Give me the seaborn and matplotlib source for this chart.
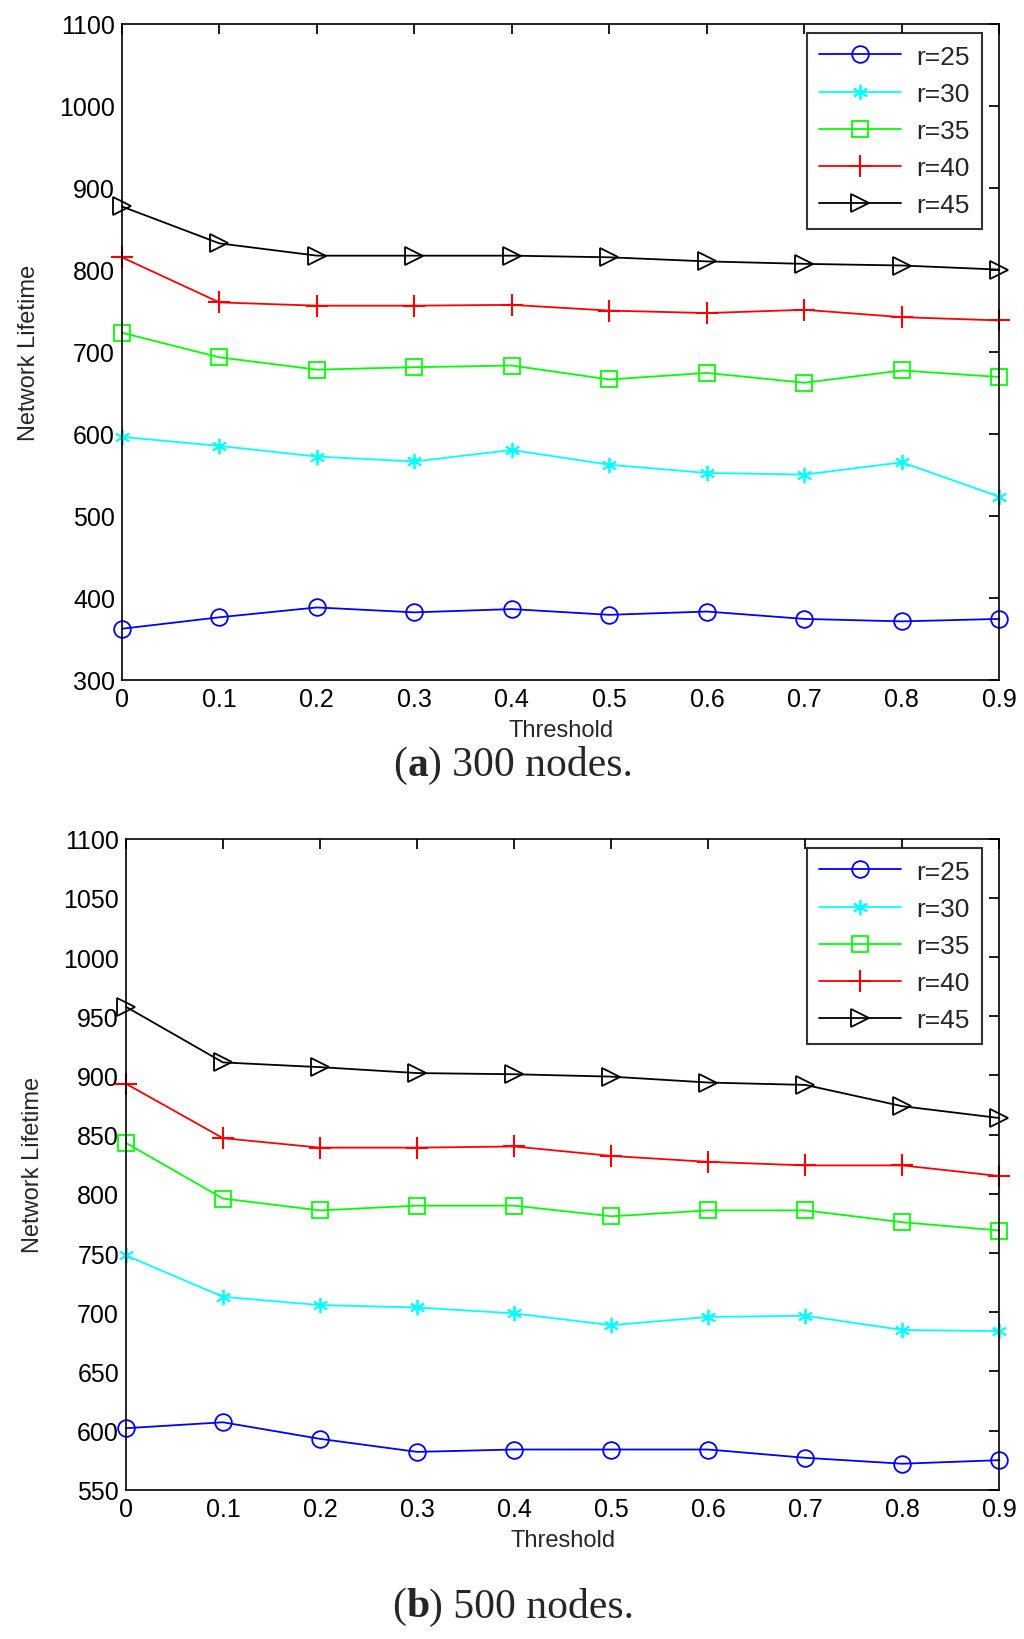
import numpy as np
import pandas as pd
import matplotlib
matplotlib.use("Agg")
import matplotlib.pyplot as plt
import seaborn as sns

sns.set_theme(style="white")
plt.rcParams.update({
    'font.family': ['Liberation Sans', 'DejaVu Sans'],
    'axes.edgecolor': 'black',
    'axes.linewidth': 1.2,
    'xtick.direction': 'in',
    'ytick.direction': 'in',
    'xtick.top': True,
    'ytick.right': True,
    'xtick.major.size': 7,
    'ytick.major.size': 7,
    'xtick.color': 'black',
    'ytick.color': 'black',
    'figure.facecolor': '#ffffff',
    'axes.facecolor': '#ffffff',
})

# Threshold values (x axis)
thresholds = [0.0, 0.1, 0.2, 0.3, 0.4, 0.5, 0.6, 0.7, 0.8, 0.9]
radii = ["r=25", "r=30", "r=35", "r=40", "r=45"]

# (a) 300 nodes
a_r25 = [362, 376, 388, 382, 386, 379, 383, 374, 371, 374]
a_r30 = [596, 585, 572, 566, 580, 562, 552, 550, 565, 523]
a_r35 = [723, 693, 678, 681, 683, 666, 674, 662, 677, 669]
a_r40 = [815, 760, 756, 756, 757, 750, 747, 751, 742, 738]
a_r45 = [877, 832, 817, 817, 817, 815, 810, 807, 805, 800]

# (b) 500 nodes
b_r25 = [602, 607, 593, 582, 584, 584, 584, 577, 572, 575]
b_r30 = [748, 713, 706, 704, 699, 689, 696, 697, 685, 684]
b_r35 = [843, 796, 786, 790, 790, 781, 786, 786, 776, 769]
b_r40 = [893, 847, 839, 839, 840, 832, 827, 824, 824, 815]
b_r45 = [958, 911, 907, 902, 901, 899, 894, 892, 874, 864]

colors = {"r=25": '#0000ff', "r=30": '#00ffff', "r=35": '#00ff00',
          "r=40": '#ff0000', "r=45": '#000000'}
# MATLAB-like markers: open circle, asterisk, open square, plus, right triangle
markers = {"r=25": ('o', 12, 'none', 1.3), "r=30": ((6, 2, 0), 11, None, 1.3),
           "r=35": ('s', 12, 'none', 1.3), "r=40": ('+', 16, None, 1.5),
           "r=45": ('>', 13, 'none', 1.3)}


def style_line(line, name):
    m, ms, mfc, mew = markers[name]
    c = colors[name]
    line.set_color(c)
    line.set_linestyle('-')
    line.set_linewidth(1.3)
    line.set_marker(m)
    line.set_markersize(ms)
    line.set_markeredgecolor(c)
    line.set_markerfacecolor(c if mfc is None else mfc)
    line.set_markeredgewidth(mew)
    line.set_clip_on(False)


def draw_panel(ax, series, yticks, ylim):
    for name, vals in zip(radii, series):
        df = pd.DataFrame({'Threshold': thresholds, 'Lifetime': vals})
        sns.lineplot(data=df, x='Threshold', y='Lifetime', ax=ax, label=name,
                     color=colors[name])
    for line, name in zip(ax.lines, radii):
        style_line(line, name)
    ax.set_xlim(0, 0.9)
    ax.set_ylim(*ylim)
    ax.set_xticks(thresholds)
    ax.set_xticklabels(["0"] + [f"{t:.1f}" for t in thresholds[1:]])
    ax.set_yticks(yticks)
    ax.tick_params(labelsize=18, pad=5)
    ax.set_xlabel("Threshold", fontsize=17, labelpad=6)
    ax.set_ylabel("Network Lifetime", fontsize=17, labelpad=14)
    for s in ax.spines.values():
        s.set_visible(True)
        s.set_color('black')
    leg = ax.legend(loc='upper right', fontsize=19, frameon=True, fancybox=False,
                    edgecolor='black', handlelength=3.1, borderpad=0.45,
                    labelspacing=0.5, handletextpad=0.6, borderaxespad=0,
                    bbox_to_anchor=(0.98, 0.986))
    leg.get_frame().set_linewidth(1.5)
    for h, name in zip(leg.legend_handles, radii):
        style_line(h, name)


fig = plt.figure(figsize=(10.24, 16.4), dpi=100)
ax1 = fig.add_axes([0.119, 0.585, 0.857, 0.400])
ax2 = fig.add_axes([0.123, 0.091, 0.853, 0.397])

draw_panel(ax1, [a_r25, a_r30, a_r35, a_r40, a_r45],
           np.arange(300, 1101, 100), (300, 1100))
draw_panel(ax2, [b_r25, b_r30, b_r35, b_r40, b_r45],
           np.arange(550, 1101, 50), (550, 1100))

# captions: bold panel letter, regular remainder
for y, tag, txt in [(0.533, "a", " 300 nodes."), (0.020, "b", " 500 nodes.")]:
    serif = ['Liberation Serif', 'DejaVu Serif']
    full = fig.text(0.5, y, "(" + tag + ")" + txt, fontsize=30, family=serif,
                    ha='center', va='center', alpha=0)
    fig.canvas.draw()
    x0 = full.get_window_extent().x0 / fig.bbox.width
    p1 = fig.text(x0, y, "(", fontsize=30, family=serif, va='center')
    fig.canvas.draw()
    x1 = p1.get_window_extent().x1 / fig.bbox.width
    p2 = fig.text(x1, y, tag, fontsize=30, family=serif, fontweight='bold', va='center')
    fig.canvas.draw()
    x2 = p2.get_window_extent().x1 / fig.bbox.width
    fig.text(x2, y, ")" + txt, fontsize=30, family=serif, va='center')

fig.savefig("out.png", dpi=100)
